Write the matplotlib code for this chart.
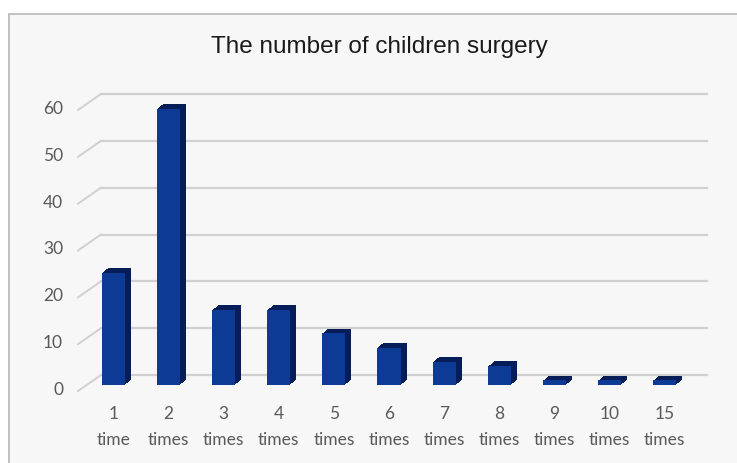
import matplotlib.pyplot as plt
import matplotlib.transforms as mtransforms
from matplotlib.patches import Rectangle

# data
counts = ["1", "2", "3", "4", "5", "6", "7", "8", "9", "10", "15"]
units = ["time"] + ["times"] * 10
children = [24, 59, 16, 16, 11, 8, 5, 4, 1, 1, 1]
y_ticks = [0, 10, 20, 30, 40, 50, 60]

W, H = 737, 463
FRONT = "#0c3a94"
SIDE = "#071d57"
GRID = "#d0d0d0"
LABEL = "#595959"

fig = plt.figure(figsize=(W / 100, H / 100), dpi=100)
fig.patch.set_facecolor("white")

# chart area panel with light border
fig.patches.append(Rectangle((9 / W, -0.01), 1.0, 1 - 14 / H + 0.01,
                             transform=fig.transFigure, facecolor="#f7f7f7",
                             edgecolor="#bcbcbc", linewidth=1.3, zorder=-5))

ax = fig.add_axes([86 / W, (H - 385) / H, (692 - 86) / W, (385 - 104) / H])
ax.set_facecolor("none")
for s in ax.spines.values():
    s.set_visible(False)

x = list(range(len(counts)))
ax.set_xlim(-0.5, len(counts) - 0.5)
ax.set_ylim(0, 60)


def px(dx, dy):
    return mtransforms.ScaledTranslation(dx / 100, dy / 100, fig.dpi_scale_trans)


back = px(15, 10)
front = px(-8, -6)

# back wall gridlines and left wall diagonals
for v in y_ticks:
    ax.plot([-0.5, len(counts) - 0.5], [v, v], color=GRID, lw=1.6,
            transform=ax.transData + back, clip_on=False, zorder=1)
fig.canvas.draw()
for v in y_ticks:
    p0 = (ax.transData + front).transform((-0.5, v))
    p1 = (ax.transData + back).transform((-0.5, v))
    ax.plot([p0[0], p1[0]], [p0[1], p1[1]], color=GRID, lw=1.4,
            transform=None, clip_on=False, zorder=1)
    ax.text(-0.5, v, str(v), transform=ax.transData + px(-23, -5),
            ha="right", va="center", fontsize=12.5, color=LABEL, family="Lato")

# bars: stacked dark offset copies give the extruded side/top
for k in range(1, 7):
    ax.bar(x, children, width=0.42, color=SIDE,
           transform=ax.transData + px(k, k * 0.8), zorder=2)
ax.bar(x, children, width=0.42, color=FRONT, zorder=3)

ax.set_xticks(x)
ax.set_xticklabels([f"{c}\n{u}" for c, u in zip(counts, units)],
                   fontsize=12.5, color=LABEL, family="Lato", linespacing=1.75)
ax.tick_params(axis="x", length=0, pad=15)
ax.set_yticks([])

fig.text(379 / W, 1 - 47 / H, "The number of children surgery", ha="center",
         va="center", fontsize=17.5, color="#1a1a1a", family="Liberation Sans")

fig.savefig("out.png", dpi=100)
